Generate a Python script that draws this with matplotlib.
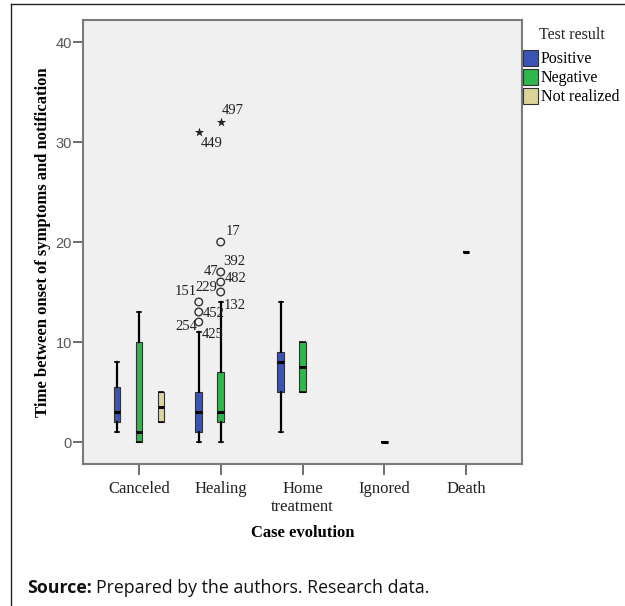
import matplotlib
matplotlib.use('Agg')
import matplotlib.pyplot as plt
from matplotlib.patches import Patch
from matplotlib.lines import Line2D

# categories and groups
categories = ['Canceled', 'Healing', 'Home\ntreatment', 'Ignored', 'Death']
groups = ['Positive', 'Negative', 'Not realized']
colors = ['#3b54b3', '#2eb84b', '#dbd59c']

# box statistics per group (index into categories)
pos_cats = [0, 1, 2]
pos_lo = [1, 0, 1]
pos_q1 = [2, 1, 5]
pos_med = [3, 3, 8]
pos_q3 = [5.5, 5, 9]
pos_hi = [8, 11, 14]

neg_cats = [0, 1, 2, 3, 4]
neg_lo = [0, 0, 5, 0, 19]
neg_q1 = [0, 2, 5, 0, 19]
neg_med = [1, 3, 7.5, 0, 19]
neg_q3 = [10, 7, 10, 0, 19]
neg_hi = [13, 14, 10, 0, 19]

nr_cats = [0]
nr_lo = [2]
nr_q1 = [2]
nr_med = [3.5]
nr_q3 = [5]
nr_hi = [5]

# outliers (Healing)
healing_pos_out = [12, 13, 14]
healing_neg_out = [15, 16, 17, 20]
healing_pos_ext = [31]
healing_neg_ext = [32]

# case labels: (group index, value, label, dx px, dy px)
case_labels = [
    (0, 31, '449', 13, -11),
    (1, 32, '497', 12, 12),
    (1, 20, '17', 12, 11),
    (1, 17, '392', 14, 11),
    (1, 17, '47', -10, 1),
    (1, 16, '482', 15, 4),
    (1, 16, '229', -14, -5),
    (1, 15, '132', 14, -13),
    (0, 14, '151', -13, 11),
    (0, 13, '452', 15, -1),
    (0, 12, '254', -12, -4),
    (0, 11, '425', 14, -2),
]

offset = 0.268
width = 0.08
serif = ['Liberation Serif', 'DejaVu Serif']

fig = plt.figure(figsize=(6.25, 6.06), dpi=100)
ax = fig.add_axes([83 / 625, 1 - 464 / 606, 439 / 625, 444 / 606])
ax.set_facecolor('#f0f0f0')

def make_stats(cats, lo, q1, med, q3, hi):
    return [dict(whislo=a, q1=b, med=c, q3=d, whishi=e, fliers=[])
            for a, b, c, d, e in zip(lo, q1, med, q3, hi)]

sets = [
    (pos_cats, make_stats(pos_cats, pos_lo, pos_q1, pos_med, pos_q3, pos_hi)),
    (neg_cats, make_stats(neg_cats, neg_lo, neg_q1, neg_med, neg_q3, neg_hi)),
    (nr_cats, make_stats(nr_cats, nr_lo, nr_q1, nr_med, nr_q3, nr_hi)),
]

for gi, (cats, stats) in enumerate(sets):
    positions = [c + (gi - 1) * offset for c in cats]
    ax.bxp(stats, positions=positions, widths=width, patch_artist=True,
           showfliers=False, capwidths=0.05,
           boxprops=dict(facecolor=colors[gi], edgecolor='#333333', linewidth=0.8),
           whiskerprops=dict(color='black', linewidth=1.6),
           capprops=dict(color='black', linewidth=1.2),
           medianprops=dict(color='black', linewidth=2.2, solid_capstyle='butt'),
           zorder=3)

# outliers
ax.scatter([1 - offset] * len(healing_pos_out), healing_pos_out, s=30, marker='o',
           facecolors='none', edgecolors='#333333', linewidths=1.0, zorder=4)
ax.scatter([1] * len(healing_neg_out), healing_neg_out, s=30, marker='o',
           facecolors='none', edgecolors='#333333', linewidths=1.0, zorder=4)
ax.scatter([1 - offset] * len(healing_pos_ext), healing_pos_ext, s=50, marker='*',
           color='#222222', linewidths=0, zorder=4)
ax.scatter([1] * len(healing_neg_ext), healing_neg_ext, s=50, marker='*',
           color='#222222', linewidths=0, zorder=4)

for gi, val, lab, dx, dy in case_labels:
    ax.annotate(lab, xy=(1 + (gi - 1) * offset, val), xytext=(dx * 0.72, dy * 0.72),
                textcoords='offset points', ha='center', va='center',
                fontsize=10.5, family=serif, color='#222222', zorder=5)

ax.set_xlim(-0.683, 4.683)
ax.set_ylim(-2.2, 42.2)
ax.set_xticks(range(len(categories)))
ax.set_xticklabels(categories, family=serif, fontsize=12, color='#222222')
ax.set_yticks([0, 10, 20, 30, 40])
ax.set_yticklabels(['0', '10', '20', '30', '40'], family=['Liberation Sans', 'DejaVu Sans'],
                   fontsize=10.5, color='#555555')
ax.tick_params(axis='y', length=7, width=1.2, color='#555555', pad=1)
ax.tick_params(axis='x', length=8, width=1.2, color='#555555', pad=4)
for sp in ax.spines.values():
    sp.set_color('#7a7a7a')
    sp.set_linewidth(1.5)

ax.set_xlabel('Case evolution', family=serif, fontsize=12, fontweight='bold', labelpad=7)
ax.set_ylabel('Time between onset of symptoms and notification', family=serif,
              fontsize=12, fontweight='bold', labelpad=3)

# legend
fig.text(572 / 625, 1 - 35 / 606, 'Test result', family=serif, fontsize=11.5,
         ha='center', va='center', color='#222222')
handles = [Patch(facecolor=c, edgecolor='#333333', linewidth=0.8) for c in colors]
fig.legend(handles, groups, loc='upper left', bbox_to_anchor=(523 / 625, 1 - 50 / 606),
           frameon=False, handlelength=0.95, handleheight=1.15,
           handletextpad=0.15, labelspacing=0.1, borderpad=0, borderaxespad=0,
           prop=dict(family=serif, size=11.5))

# outer frame lines
fig.add_artist(Line2D([11 / 625, 11 / 625], [0, 1 - 4 / 606], color='#222222', linewidth=1.0))
fig.add_artist(Line2D([11 / 625, 1], [1 - 4 / 606, 1 - 4 / 606], color='#222222', linewidth=1.0))

src = fig.text(27 / 625, 1 - 588 / 606, 'Source:', family=['Open Sans', 'DejaVu Sans'],
               fontsize=12.8, fontweight='bold', va='center', color='#111111')
fig.canvas.draw()
bb = src.get_window_extent()
fig.text(bb.x1 / 625 + 4 / 625, 1 - 588 / 606, 'Prepared by the authors. Research data.',
         family=['Open Sans', 'DejaVu Sans'], fontsize=12.8, va='center', color='#111111')

fig.savefig('out.png', dpi=100)
